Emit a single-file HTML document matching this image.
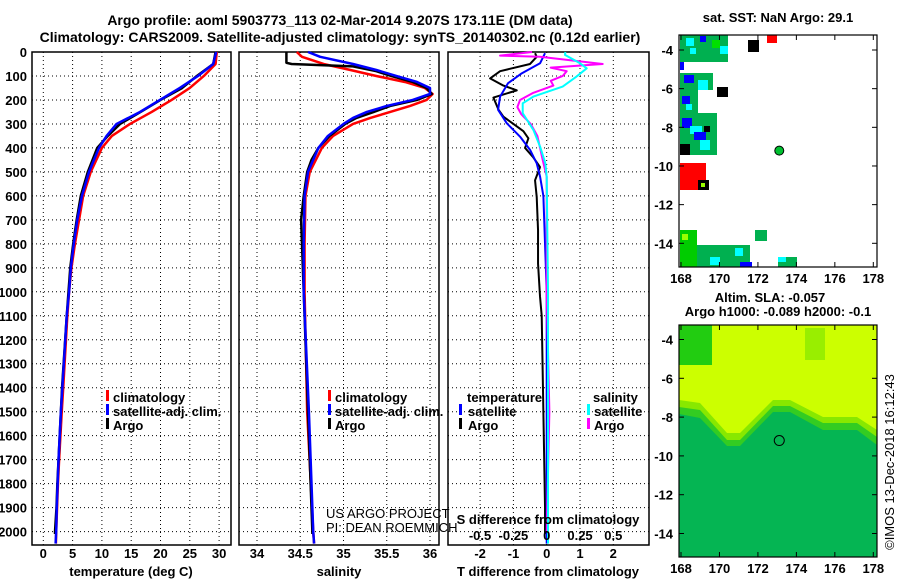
<!DOCTYPE html>
<html><head><meta charset="utf-8"><style>
body{margin:0;background:#fff}
svg{display:block}
text{font-family:"Liberation Sans",sans-serif;font-weight:bold;font-size:13px;fill:#000}
.t{font-size:14px}
.n{font-weight:normal}
</style></head><body>
<svg id="c" width="900" height="580" viewBox="0 0 900 580" xmlns="http://www.w3.org/2000/svg">
<text class="t" x="340" y="25" text-anchor="middle">Argo profile: aoml 5903773_113 02-Mar-2014 9.207S 173.11E (DM data)</text>
<text class="t" x="340" y="42" text-anchor="middle">Climatology: CARS2009. Satellite-adjusted climatology: synTS_20140302.nc (0.12d earlier)</text>
<text x="778" y="22" text-anchor="middle">sat. SST: NaN Argo: 29.1</text>
<text x="770" y="302" text-anchor="middle">Altim. SLA: -0.057</text>
<text x="778" y="316" text-anchor="middle">Argo h1000: -0.089 h2000: -0.1</text>
<text class="n" x="0" y="0" transform="translate(894,462) rotate(-90)" text-anchor="middle">©IMOS 13-Dec-2018 16:12:43</text>
<g id="g"></g>
</svg>
<script>
const depthTicks=[0,100,200,300,400,500,600,700,800,900,1000,1100,1200,1300,1400,1500,1600,1700,1800,1900,2000];
const tempTicks=[0,5,10,15,20,25,30];
const salTicks=[34,34.5,35,35.5,36];
const tdTicks=[-2,-1,0,1,2];
const sdTicks=[-0.5,-0.25,0,0.25,0.5];
const sdTickLabels=["-0.5","-0.25","0","0.25","0.5"];
const lonTicks=[168,170,172,174,176,178];
const latTicks1=[-4,-6,-8,-10,-12,-14];
const latTicks2=[-4,-6,-8,-10,-12,-14];

const tDepth=[0,50,100,150,200,250,300,350,400,500,600,700,800,900,1000,1100,1400,1500,1700,1800,1900,2000,2050];
const tempClim=[29.6,29.4,27.4,25.0,21.9,18.5,14.8,11.7,10.0,8.1,6.8,6.1,5.4,4.8,4.4,4.1,3.4,3.15,2.7,2.5,2.35,2.2,2.15];
const tempSat=[29.5,29.0,26.4,23.3,19.9,16.5,12.5,10.8,9.5,7.8,6.6,5.8,5.2,4.7,4.4,4.0,3.25,3.0,2.6,2.45,2.3,2.2,2.1];
const argoTDepth=[0,50,100,150,200,250,300,350,400,500,600,700,800,900,1000,1100,1400,1500,1700,1800,1900,2000,2010];
const tempArgo=[29.4,29.0,26.2,23.7,20.0,16.6,13.1,11.0,9.2,7.6,6.4,5.7,5.1,4.6,4.3,4.0,3.2,3.0,2.6,2.4,2.25,2.0,2.0];

const sDepth=[0,20,50,75,100,125,150,175,200,225,250,275,300,350,400,500,600,800,1000,1500,2000,2050];
const salClim=[34.46,34.52,34.77,35.08,35.38,35.71,35.94,36.03,35.96,35.77,35.54,35.31,35.11,34.88,34.75,34.61,34.56,34.55,34.55,34.58,34.65,34.66];
const salSat=[34.59,34.73,35.11,35.38,35.61,35.85,36.0,36.0,35.8,35.5,35.27,35.11,35.0,34.82,34.71,34.59,34.55,34.54,34.54,34.6,34.65,34.66];
const argoSDepth=[0,45,50,60,80,100,125,150,175,200,225,250,275,300,350,400,450,500,600,700,800,1000,1500,2000,2010];
const salArgo=[34.34,34.34,34.4,35.11,35.38,35.55,35.8,35.96,36.02,35.85,35.54,35.35,35.15,35.02,34.84,34.71,34.63,34.58,34.54,34.51,34.52,34.54,34.59,34.64,34.64];

const tdSatDepth=[5,47,89,130,186,241,297,353,408,464,519,600,800,1000,1500,2050];
const tdSat=[-0.05,-0.2,-0.75,-1.16,-1.4,-1.46,-1.2,-0.8,-0.5,-0.3,-0.2,-0.1,-0.05,0,0,0];
const tdArgoDepth=[5,20,50,80,110,140,160,190,240,270,300,330,360,400,440,480,535,604,743,882,1021,1100,1500,1900,2010];
const tdArgo=[-0.35,-0.3,-0.5,-1.4,-1.7,-1.3,-0.9,-1.6,-1.45,-1.3,-1.0,-0.7,-0.55,-0.65,-0.4,-0.2,-0.35,-0.3,-0.26,-0.26,-0.2,-0.15,-0.1,-0.05,-0.05];
const sdSatDepth=[0,12,47,68,102,144,186,214,255,325,394,464,520,1000,2050];
const sdSat=[0.14,0.137,0.25,0.30,0.225,0.12,-0.1,-0.18,-0.18,-0.1,-0.05,-0.01,0.0,0.01,0.01];
const sdArgoDepth=[0,15,20,50,65,80,100,120,140,170,200,230,260,300,350,400,450,520,1000,1500,2000];
const sdArgo=[-0.11,-0.35,-0.05,0.42,0.03,0.15,0.12,0.03,0.05,-0.1,-0.2,-0.22,-0.19,-0.12,-0.07,-0.05,-0.03,0.0,0.0,0.02,0.0];

const argoLon=[173.11];
const argoLat=[-9.207];

const NS="http://www.w3.org/2000/svg";
const G=document.getElementById('g');
function mk(tag,at,parent){const e=document.createElementNS(NS,tag);for(const k in at)e.setAttribute(k,at[k]);(parent||G).appendChild(e);return e;}
const yD=d=>52+0.2398*d;
const xT=t=>43.3+5.86*t;
const xS=s=>257+86.5*(s-34);
const xTD=t=>546.7+33.3*t;
const xSD=s=>546.7+133.3*s;
const PT=52,PB=545;

function panel(x0,x1,name,xticks,xf,labels,showY){
  for(const d of depthTicks){const y=yD(d);
    const l=mk('line',{x1:x0,x2:x1,y1:y,y2:y,stroke:'#000','stroke-dasharray':'1,3'});
    
    if(showY){const t=mk('text',{x:27,y:y+5,'text-anchor':'end'});t.textContent=d;
      }
  }
  xticks.forEach((v,i)=>{const x=xf(v);
    const l=mk('line',{x1:x,x2:x,y1:PT,y2:PB,stroke:'#000','stroke-dasharray':'1,3'});
    
    if(labels){const t=mk('text',{x:x,y:558,'text-anchor':'middle'});t.textContent=labels[i];
      }
  });
  const r=mk('rect',{x:x0,y:PT,width:x1-x0,height:PB-PT,fill:'none',stroke:'#000','stroke-width':1.5});
  
}
function line(xs,ds,xf,col,w,name){
  const p=mk('polyline',{points:xs.map((v,i)=>xf(v)+','+yD(ds[i])).join(' '),fill:'none',stroke:col,'stroke-width':w,'stroke-linejoin':'round'});
  
}
function txt(x,y,s,name,cls,anchor){const t=mk('text',{x:x,y:y});if(cls)t.setAttribute('class',cls);if(anchor)t.setAttribute('text-anchor',anchor);t.textContent=s;
  return t;}
function lmark(x,y,col,name){const r=mk('rect',{x:x,y:y-11,width:3,height:11,fill:col});
  }

// Panel 1 temperature
panel(32,231,'temperature-panel',tempTicks,xT,tempTicks.map(String),true);
line(tempClim,tDepth,xT,'#f00',2.5,'temp-climatology-line');
line(tempArgo,argoTDepth,xT,'#000',2.5,'temp-argo-line');
line(tempSat,tDepth,xT,'#00f',2.5,'temp-satellite-line');
txt(131,576,'temperature (deg C)','x-axis-title-temperature',null,'middle');
lmark(106,401,'#f00','legend-mark-climatology');txt(113,402,'climatology','legend-climatology');
lmark(106,415,'#00f','legend-mark-satellite');txt(113,416,'satellite-adj. clim.','legend-satellite');
lmark(106,429,'#000','legend-mark-argo');txt(113,430,'Argo','legend-argo');

// Panel 2 salinity
panel(239,439,'salinity-panel',salTicks,xS,salTicks.map(String),false);
line(salClim,sDepth,xS,'#f00',2.5,'sal-climatology-line');
line(salArgo,argoSDepth,xS,'#000',2.5,'sal-argo-line');
line(salSat,sDepth,xS,'#00f',2.5,'sal-satellite-line');
txt(339,576,'salinity','x-axis-title-salinity',null,'middle');
lmark(328,401,'#f00','legend-mark-climatology-2');txt(335,402,'climatology','legend-climatology-2');
lmark(328,415,'#00f','legend-mark-satellite-2');txt(335,416,'satellite-adj. clim.','legend-satellite-2');
lmark(328,429,'#000','legend-mark-argo-2');txt(335,430,'Argo','legend-argo-2');
txt(326,518,'US ARGO PROJECT','credit-project','n');
txt(326,532,'PI: DEAN ROEMMICH','credit-pi','n');

// Panel 3 differences
panel(448,649,'difference-panel',tdTicks,xTD,tdTicks.map(String),false);
line(tdArgo,tdArgoDepth,xTD,'#000',2,'tdiff-argo-line');
line(tdSat,tdSatDepth,xTD,'#00f',2,'tdiff-satellite-line');
line(sdArgo,sdArgoDepth,xSD,'#f0f',2,'sdiff-argo-line');
line(sdSat,sdSatDepth,xSD,'#0ff',2,'sdiff-satellite-line');
txt(548,576,'T difference from climatology','x-axis-title-tdiff',null,'middle');
txt(548,524,'S difference from climatology','s-axis-title',null,'middle');
sdTicks.forEach((v,i)=>{txt(xSD(v),540,sdTickLabels[i],'s-tick-label',null,'middle');});
txt(467,402,'temperature','legend-temperature-heading');
lmark(459,415,'#00f','legend-mark-t-satellite');txt(468,416,'satellite','legend-t-satellite');
lmark(459,429,'#000','legend-mark-t-argo');txt(468,430,'Argo','legend-t-argo');
txt(593,402,'salinity','legend-salinity-heading');
lmark(587,415,'#0ff','legend-mark-s-satellite');txt(594,416,'satellite','legend-s-satellite');
lmark(587,429,'#f0f','legend-mark-s-argo');txt(594,430,'Argo','legend-s-argo');

// Maps
const lonX=l=>681+19.23*(l-168);
const lat1Y=a=>50+19.33*(-4-a);
const lat2Y=a=>339.5+19.4*(-4-a);
function mapFrame(top,bot,latY,lats,name){
  const r=mk('rect',{x:679,y:top,width:198,height:bot-top,fill:'none',stroke:'#000','stroke-width':1.2});
  
  for(const a of lats){const y=latY(a);
    mk('line',{x1:679,x2:684,y1:y,y2:y,stroke:'#000'});mk('line',{x1:872,x2:877,y1:y,y2:y,stroke:'#000'});
    txt(673,y+5,String(a),'lat-tick-label',null,'end');}
  for(const l of lonTicks){const x=lonX(l);
    mk('line',{x1:x,x2:x,y1:bot-5,y2:bot,stroke:'#000'});mk('line',{x1:x,x2:x,y1:top,y2:top+5,stroke:'#000'});
    txt(x,bot+16,String(l),'lon-tick-label',null,'middle');}
}
// SST map cells
const sst=[[680,35,48,27,'#00b050'],[686,38,8,8,'#00ffff'],[700,36,6,6,'#0000ff'],[712,40,8,8,'#00e000'],[690,48,6,6,'#00ffff'],[720,46,8,8,'#00ffff'],[680,62,4,8,'#0000ff'],
[680,73,33,17,'#00b050'],[684,75,10,8,'#0000ff'],[698,80,10,10,'#00ffff'],[680,90,18,23,'#00b050'],[682,96,8,8,'#0000ff'],[686,104,6,6,'#00ffff'],
[680,113,37,42,'#00b050'],[682,118,10,10,'#0000ff'],[690,126,12,8,'#00ffff'],[694,132,12,8,'#0000ff'],[700,140,10,10,'#00ffff'],[680,144,10,11,'#000'],[704,126,6,6,'#000'],
[680,163,26,27,'#f00'],[698,180,11,10,'#000'],[701,183,4,4,'#99ff00'],[748,40,11,12,'#000'],[717,87,11,10,'#000'],[767,35,10,8,'#f00'],
[680,230,17,37,'#00cc00'],[682,234,6,6,'#99ff00'],[697,245,53,22,'#00b050'],[710,257,10,8,'#00ffff'],[735,248,8,8,'#00ffff'],[755,230,12,11,'#00b050'],[778,257,19,10,'#00b050'],[778,257,8,5,'#00ffff'],[740,262,12,5,'#0000ff']];
sst.forEach(c=>{const r=mk('rect',{x:c[0],y:c[1],width:c[2],height:c[3],fill:c[4]});
  });
const a1=mk('circle',{cx:lonX(argoLon[0]),cy:lat1Y(argoLat[0]),r:4.5,fill:'#00c030',stroke:'#000','stroke-width':1});

mapFrame(35,267,lat1Y,latTicks1,'sst-map');

// SLA map
const bg=mk('rect',{x:679,y:325,width:198,height:232,fill:'#05b553'});

const band=mk('polygon',{points:'679,325 877,325 877,445 857,430 823,430 790,412 773,412 740,446 727,446 700,418 679,414',fill:'#33cc22'});

const band2=mk('polygon',{points:'679,325 877,325 877,437 857,423 823,423 790,406 773,406 740,440 727,440 700,410 679,407',fill:'#88e800'});

const yel=mk('polygon',{points:'679,325 877,325 877,430 857,417 823,417 790,400 773,400 740,433 727,433 700,403 679,400',fill:'#ccff00'});

const gp=mk('rect',{x:679,y:325,width:33,height:40,fill:'#22cc11'});
const gp2=mk('rect',{x:805,y:328,width:20,height:32,fill:'#99ee00'});
const a2=mk('circle',{cx:lonX(argoLon[0]),cy:lat2Y(argoLat[0]),r:5,fill:'none',stroke:'#000','stroke-width':1});

mapFrame(325,557,lat2Y,latTicks2,'sla-map');
</script>
</body></html>
